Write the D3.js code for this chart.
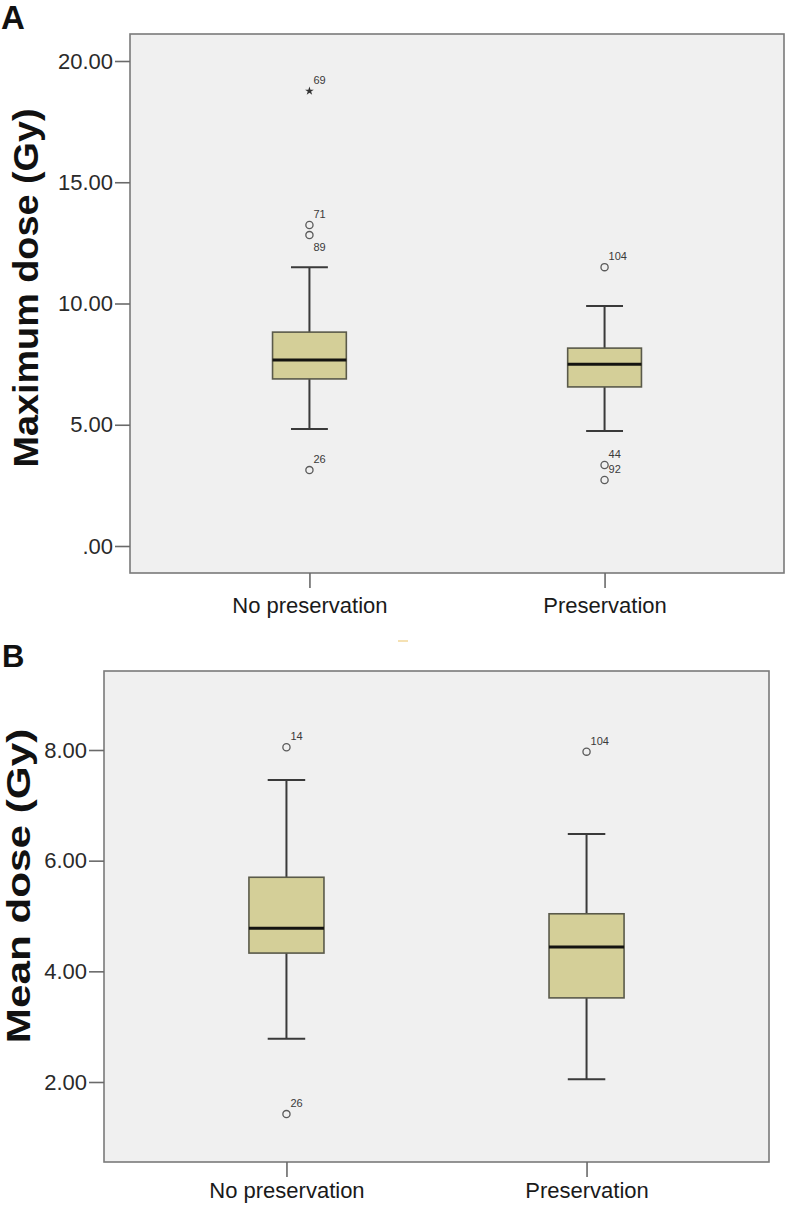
<!DOCTYPE html>
<html>
<head>
<meta charset="utf-8">
<script src="https://cdn.jsdelivr.net/npm/d3@7/dist/d3.min.js"></script>
<style>
  html, body { margin: 0; padding: 0; background: #ffffff; }
  svg { display: block; font-family: "Liberation Sans", Arial, sans-serif; }
</style>
</head>
<body>
<svg id="chart" width="787" height="1205"></svg>
<script>
// ---------- data ----------
const categories = ["No preservation", "Preservation"];

// Panel A: Maximum dose (Gy)
const maxLow    = [4.82, 4.74];
const maxQ1     = [6.89, 6.56];
const maxMedian = [7.67, 7.50];
const maxQ3     = [8.82, 8.16];
const maxHigh   = [11.50, 9.90];
const maxOutlierCat   = [0, 0, 0, 0, 1, 1, 1];
const maxOutlierValue = [18.76, 13.24, 12.82, 3.13, 11.50, 3.34, 2.72];
const maxOutlierLabel = ["69", "71", "89", "26", "104", "44", "92"];
const maxOutlierKind  = ["extreme", "outlier", "outlier", "outlier", "outlier", "outlier", "outlier"];
const maxOutlierSide  = ["above", "above", "below", "above", "above", "above", "above"];
const maxTicks      = [0, 5, 10, 15, 20];
const maxTickLabels = [".00", "5.00", "10.00", "15.00", "20.00"];

// Panel B: Mean dose (Gy)
const meanLow    = [2.78, 2.05];
const meanQ1     = [4.33, 3.52];
const meanMedian = [4.78, 4.44];
const meanQ3     = [5.70, 5.04];
const meanHigh   = [7.46, 6.48];
const meanOutlierCat   = [0, 0, 1];
const meanOutlierValue = [8.05, 1.42, 7.97];
const meanOutlierLabel = ["14", "26", "104"];
const meanOutlierKind  = ["outlier", "outlier", "outlier"];
const meanOutlierSide  = ["above", "above", "above"];
const meanTicks      = [2, 4, 6, 8];
const meanTickLabels = ["2.00", "4.00", "6.00", "8.00"];

// ---------- drawing ----------
const svg = d3.select("#chart");

function panel(cfg) {
  const g = svg.append("g");
  const L = cfg.frame.left, R = cfg.frame.right, T = cfg.frame.top, B = cfg.frame.bottom;

  const x = d3.scalePoint().domain(categories).range([L, R]).padding(0.608);
  const y = d3.scaleLinear().domain(cfg.yDomain).range(cfg.yRange);
  const boxW = x.step() * 0.25;
  const capW = boxW / 2;

  // plot background + frame
  g.append("rect").attr("x", L).attr("y", T).attr("width", R - L).attr("height", B - T)
    .attr("fill", "#f0f0f0").attr("stroke", "#7a7a7a").attr("stroke-width", 1.6);

  // y axis
  const yAxis = d3.axisLeft(y).tickValues(cfg.ticks).tickSize(15).tickPadding(2)
    .tickFormat((d, i) => cfg.tickLabels[i]);
  const ya = g.append("g").attr("transform", `translate(${L},0)`).call(yAxis);
  ya.select(".domain").remove();
  ya.selectAll(".tick line").attr("stroke", "#6a6a6a").attr("stroke-width", 1.6);
  ya.selectAll(".tick text").attr("font-size", 22).attr("fill", "#2a2a2a")
    .attr("font-family", "'Liberation Sans', Arial, sans-serif");

  // x axis
  const xAxis = d3.axisBottom(x).tickSize(15).tickPadding(cfg.xPad);
  const xa = g.append("g").attr("transform", `translate(0,${B})`).call(xAxis);
  xa.select(".domain").remove();
  xa.selectAll(".tick line").attr("stroke", "#6a6a6a").attr("stroke-width", 1.6);
  xa.selectAll(".tick text").attr("font-size", 22).attr("fill", "#1a1a1a")
    .attr("font-family", "'Liberation Sans', Arial, sans-serif");

  // boxes
  const idx = d3.range(categories.length);
  const bx = g.append("g");
  idx.forEach(i => {
    const cx = x(categories[i]);
    // whiskers
    bx.append("line").attr("x1", cx).attr("x2", cx).attr("y1", y(cfg.high[i])).attr("y2", y(cfg.q3[i]))
      .attr("stroke", "#3a3a3a").attr("stroke-width", 2);
    bx.append("line").attr("x1", cx).attr("x2", cx).attr("y1", y(cfg.q1[i])).attr("y2", y(cfg.low[i]))
      .attr("stroke", "#3a3a3a").attr("stroke-width", 2);
    bx.append("line").attr("x1", cx - capW / 2).attr("x2", cx + capW / 2).attr("y1", y(cfg.high[i])).attr("y2", y(cfg.high[i]))
      .attr("stroke", "#3a3a3a").attr("stroke-width", 2);
    bx.append("line").attr("x1", cx - capW / 2).attr("x2", cx + capW / 2).attr("y1", y(cfg.low[i])).attr("y2", y(cfg.low[i]))
      .attr("stroke", "#3a3a3a").attr("stroke-width", 2);
    // box
    bx.append("rect").attr("x", cx - boxW / 2).attr("y", y(cfg.q3[i]))
      .attr("width", boxW).attr("height", y(cfg.q1[i]) - y(cfg.q3[i]))
      .attr("fill", "#d4cf98").attr("stroke", "#5a5a4a").attr("stroke-width", 1.6);
    // median
    bx.append("line").attr("x1", cx - boxW / 2).attr("x2", cx + boxW / 2)
      .attr("y1", y(cfg.median[i])).attr("y2", y(cfg.median[i]))
      .attr("stroke", "#141410").attr("stroke-width", 3);
  });

  // outliers
  const og = g.append("g");
  cfg.oCat.forEach((c, k) => {
    const cx = x(categories[c]);
    const cy = y(cfg.oVal[k]);
    if (cfg.oKind[k] === "extreme") {
      og.append("path").attr("d", d3.symbol().type(d3.symbolStar).size(24)())
        .attr("transform", `translate(${cx},${cy})`).attr("fill", "#333");
    } else {
      og.append("circle").attr("cx", cx).attr("cy", cy).attr("r", 3.6)
        .attr("fill", "none").attr("stroke", "#5a5a5a").attr("stroke-width", 1.3);
    }
    const by = cfg.oSide[k] === "above" ? cy - 7 : cy + 16;
    og.append("text").attr("x", cx + 4).attr("y", by)
      .attr("font-size", 11).attr("fill", "#3a3a3a").text(cfg.oLab[k]);
  });

  // y title
  svg.append("text")
    .attr("transform", `translate(${cfg.titleX},${cfg.titleY}) rotate(-90) scale(${cfg.titleStretch},1)`)
    .attr("text-anchor", "middle").attr("font-weight", "bold").attr("font-size", cfg.titleSize)
    .attr("fill", "#111").text(cfg.title);

  // panel letter
  svg.append("text").attr("x", cfg.letterX).attr("y", cfg.letterY)
    .attr("font-weight", "bold").attr("font-size", cfg.letterSize).attr("fill", "#111").text(cfg.letter);
}

panel({
  frame: { left: 130, right: 784, top: 34, bottom: 573 },
  yDomain: [0, 20], yRange: [546, 61],
  ticks: maxTicks, tickLabels: maxTickLabels, xPad: 9,
  low: maxLow, q1: maxQ1, median: maxMedian, q3: maxQ3, high: maxHigh,
  oCat: maxOutlierCat, oVal: maxOutlierValue, oLab: maxOutlierLabel, oKind: maxOutlierKind, oSide: maxOutlierSide,
  title: "Maximum dose (Gy)", titleX: 38, titleY: 288, titleSize: 35, titleStretch: 1.08,
  letter: "A", letterX: 1, letterY: 29, letterSize: 33
});

panel({
  frame: { left: 104, right: 769, top: 671, bottom: 1162 },
  yDomain: [2, 8], yRange: [1082, 750],
  ticks: meanTicks, tickLabels: meanTickLabels, xPad: 5,
  low: meanLow, q1: meanQ1, median: meanMedian, q3: meanQ3, high: meanHigh,
  oCat: meanOutlierCat, oVal: meanOutlierValue, oLab: meanOutlierLabel, oKind: meanOutlierKind, oSide: meanOutlierSide,
  title: "Mean dose (Gy)", titleX: 30, titleY: 886, titleSize: 33, titleStretch: 1.28,
  letter: "B", letterX: 2, letterY: 667, letterSize: 31
});

// small stray mark between panels as in the reference
svg.append("line").attr("x1", 398).attr("x2", 408).attr("y1", 641).attr("y2", 641)
  .attr("stroke", "#f2d79a").attr("stroke-width", 1.5);
</script>
</body>
</html>
